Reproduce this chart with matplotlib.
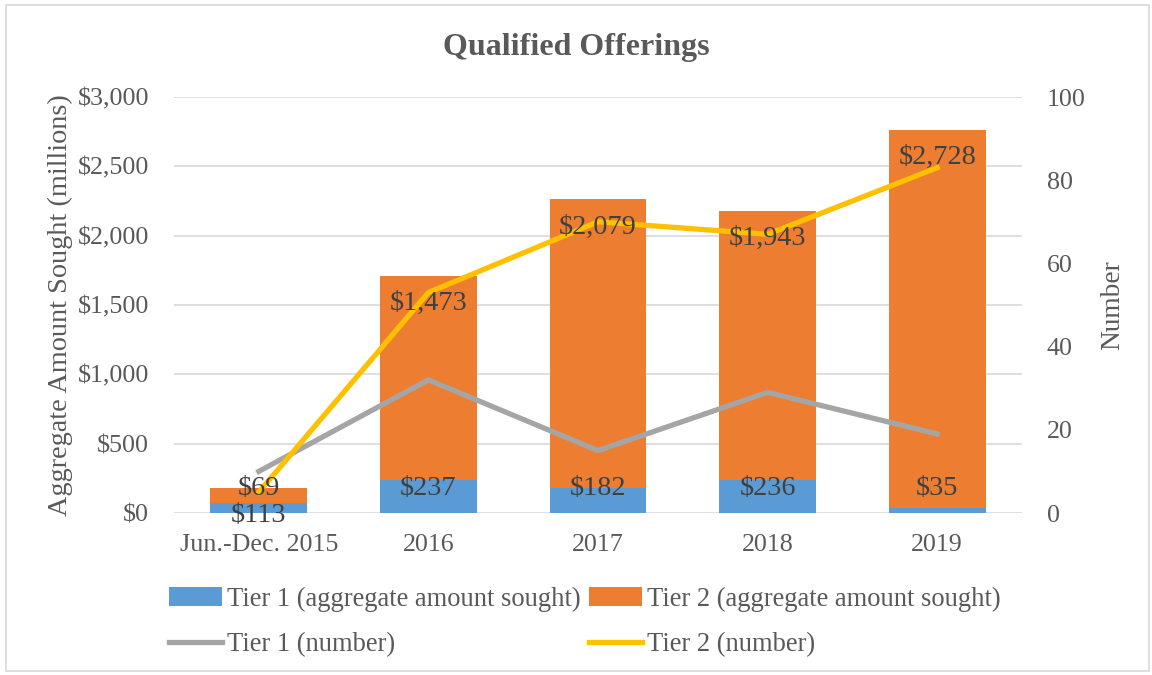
import matplotlib.pyplot as plt
from matplotlib.patches import Rectangle

plt.rcParams['font.family'] = ['Liberation Serif', 'DejaVu Serif']

# data
categories = ['Jun.-Dec. 2015', '2016', '2017', '2018', '2019']
tier1_amount = [69, 237, 182, 236, 35]
tier2_amount = [113, 1473, 2079, 1943, 2728]
tier1_number = [10, 32, 15, 29, 19]
tier2_number = [5, 53, 70, 67, 83]

c_t1 = '#5B9BD5'
c_t2 = '#ED7D31'
c_l1 = '#A5A5A5'
c_l2 = '#FFC000'
txt = '#595959'
grid = '#D9D9D9'

fig = plt.figure(figsize=(11.52, 6.75), dpi=100)
fig.patches.append(Rectangle((6 / 1152, 4 / 675), 1143 / 1152, 666 / 675,
                             transform=fig.transFigure, fill=False,
                             edgecolor=grid, linewidth=1.2))

ax = fig.add_axes([174 / 1152, 1 - 513 / 675, 848 / 1152, 416 / 675])
x = list(range(len(categories)))
w = 0.57

b1 = ax.bar(x, tier1_amount, w, color=c_t1, zorder=2,
            label='Tier 1 (aggregate amount sought)')
b2 = ax.bar(x, tier2_amount, w, bottom=tier1_amount, color=c_t2, zorder=2,
            label='Tier 2 (aggregate amount sought)')

ax.set_ylim(0, 3000)
ax.set_xlim(-0.5, len(categories) - 0.5)
ax.set_yticks(range(0, 3001, 500))
ax.set_yticklabels(['${:,}'.format(v) for v in range(0, 3001, 500)])
ax.set_xticks(x)
ax.set_xticklabels(categories)
ax.yaxis.grid(True, color=grid, linewidth=1.2, zorder=0)
ax.set_axisbelow(True)
for s in ax.spines.values():
    s.set_visible(False)
ax.tick_params(axis='both', length=0, labelsize=18.7, colors=txt)
ax.tick_params(axis='y', pad=18)
ax.tick_params(axis='x', pad=15)
ax.set_ylabel('Aggregate Amount Sought (millions)', fontsize=20.3, color=txt, labelpad=3)

ax2 = ax.twinx()
l1, = ax2.plot(x, tier1_number, color=c_l1, linewidth=3.8, zorder=3,
               label='Tier 1 (number)')
l2, = ax2.plot(x, tier2_number, color=c_l2, linewidth=3.8, zorder=3,
               label='Tier 2 (number)')
ax2.set_ylim(0, 100)
ax2.set_yticks(range(0, 101, 20))
for s in ax2.spines.values():
    s.set_visible(False)
ax2.tick_params(axis='y', length=0, labelsize=18.7, colors=txt, pad=18)
ax2.set_ylabel('Number', fontsize=19.7, color=txt, labelpad=10)

# data labels (drawn over the lines)
for i in x:
    y1 = max(tier1_amount[i] - 198, 180)
    y2 = tier1_amount[i] + tier2_amount[i] - 198
    ax2.text(i, y1 / 30, '${:,}'.format(tier1_amount[i]), ha='center', va='center',
             fontsize=20.3, color='#404040', zorder=5)
    ax2.text(i, y2 / 30, '${:,}'.format(tier2_amount[i]), ha='center', va='center',
             fontsize=20.3, color='#404040', zorder=5)

fig.text(0.5, 1 - 48 / 675, 'Qualified Offerings', ha='center', va='center',
         fontsize=23, fontweight='bold', color=txt)

fig.legend([b1, l1, b2, l2],
           [b1.get_label(), l1.get_label(), b2.get_label(), l2.get_label()],
           ncol=2, loc='center', bbox_to_anchor=(585 / 1152, 1 - 622 / 675),
           frameon=False, fontsize=19.1, labelcolor=txt, handlelength=2.0,
           handletextpad=0.2, columnspacing=0.3, labelspacing=0.78)

fig.savefig('out.png', dpi=100)
